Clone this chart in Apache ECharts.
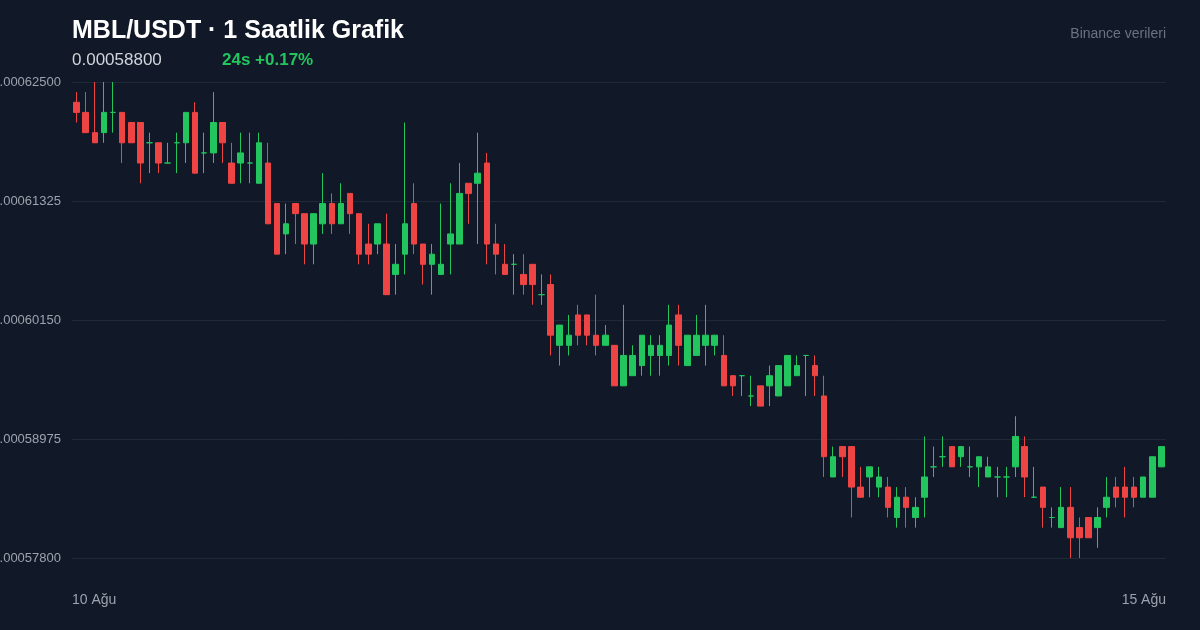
<!DOCTYPE html>
<html>
<head>
<meta charset="utf-8">
<script src="https://cdn.jsdelivr.net/npm/echarts@6/dist/echarts.min.js"></script>
<style>
  html, body { margin: 0; padding: 0; background: #111827; }
  #chart { width: 1200px; height: 630px; }
</style>
</head>
<body>
<div id="chart"></div>
<script>
// Hourly OHLC values (USDT)
const opens = [0.000623,0.000622,0.000620,0.000620,0.000622,0.000622,0.000621,0.000621,0.000619,0.000619,
  0.000617,0.000619,0.000619,0.000622,0.000618,0.000618,0.000621,0.000617,0.000617,0.000617,
  0.000615,0.000617,0.000613,0.000610,0.000613,0.000612,0.000609,0.000611,0.000613,0.000611,
  0.000614,0.000612,0.000609,0.000609,0.000609,0.000606,0.000608,0.000613,0.000609,0.000607,
  0.000606,0.000609,0.000609,0.000615,0.000615,0.000617,0.000609,0.000607,0.000607,0.000606,
  0.000607,0.000604,0.000605,0.000599,0.000599,0.000602,0.000602,0.000600,0.000599,0.000599,
  0.000595,0.000596,0.000597,0.000598,0.000598,0.000598,0.000602,0.000597,0.000598,0.000599,
  0.000599,0.000598,0.000596,0.000596,0.000594,0.000595,0.000595,0.000594,0.000595,0.000596,
  0.000598,0.000597,0.000594,0.000586,0.000589,0.000589,0.000585,0.000586,0.000585,0.000585,
  0.000582,0.000584,0.000582,0.000584,0.000587,0.000588,0.000589,0.000588,0.000587,0.000587,
  0.000586,0.000586,0.000586,0.000587,0.000589,0.000584,0.000585,0.000582,0.000581,0.000583,
  0.000581,0.000582,0.000581,0.000583,0.000585,0.000585,0.000585,0.000584,0.000584,0.000587];
const closes = [0.000622,0.000620,0.000619,0.000622,0.000622,0.000619,0.000619,0.000617,0.000619,0.000617,
  0.000617,0.000619,0.000622,0.000616,0.000618,0.000621,0.000619,0.000615,0.000618,0.000617,
  0.000619,0.000611,0.000608,0.000611,0.000612,0.000609,0.000612,0.000613,0.000611,0.000613,
  0.000612,0.000608,0.000608,0.000611,0.000604,0.000607,0.000611,0.000609,0.000607,0.000608,
  0.000607,0.000610,0.000614,0.000614,0.000616,0.000609,0.000608,0.000606,0.000607,0.000605,
  0.000605,0.000604,0.000600,0.000601,0.000600,0.000600,0.000600,0.000599,0.000600,0.000595,
  0.000598,0.000598,0.000600,0.000599,0.000599,0.000601,0.000599,0.000600,0.000600,0.000600,
  0.000600,0.000595,0.000595,0.000596,0.000594,0.000593,0.000596,0.000597,0.000598,0.000597,
  0.000598,0.000596,0.000588,0.000588,0.000588,0.000585,0.000584,0.000587,0.000586,0.000583,
  0.000584,0.000583,0.000583,0.000586,0.000587,0.000588,0.000587,0.000589,0.000587,0.000588,
  0.000587,0.000586,0.000586,0.000590,0.000586,0.000584,0.000583,0.000582,0.000583,0.000580,
  0.000580,0.000580,0.000582,0.000584,0.000584,0.000584,0.000584,0.000586,0.000588,0.000589];
const highs = [0.000624,0.000624,0.000625,0.000625,0.000625,0.000622,0.000621,0.000621,0.000620,0.000619,
  0.000619,0.000620,0.000622,0.000623,0.000620,0.000624,0.000621,0.000619,0.000620,0.000620,
  0.000620,0.000619,0.000613,0.000613,0.000613,0.000612,0.000612,0.000616,0.000614,0.000615,
  0.000614,0.000612,0.000611,0.000611,0.000612,0.000609,0.000621,0.000615,0.000609,0.000609,
  0.000613,0.000615,0.000617,0.000615,0.000620,0.000618,0.000611,0.000609,0.000608,0.000608,
  0.000607,0.000606,0.000606,0.000601,0.000602,0.000603,0.000602,0.000604,0.000601,0.000599,
  0.000603,0.000599,0.000600,0.000600,0.000600,0.000603,0.000603,0.000600,0.000602,0.000603,
  0.000600,0.000600,0.000596,0.000596,0.000596,0.000595,0.000597,0.000597,0.000598,0.000598,
  0.000598,0.000598,0.000596,0.000589,0.000589,0.000589,0.000587,0.000587,0.000587,0.000586,
  0.000585,0.000585,0.000584,0.000590,0.000589,0.000590,0.000589,0.000589,0.000589,0.000588,
  0.000588,0.000587,0.000587,0.000592,0.000590,0.000587,0.000585,0.000583,0.000585,0.000585,
  0.000582,0.000582,0.000583,0.000586,0.000586,0.000587,0.000586,0.000586,0.000588,0.000589];
const lows = [0.000621,0.000620,0.000619,0.000619,0.000620,0.000617,0.000619,0.000615,0.000616,0.000616,
  0.000617,0.000616,0.000617,0.000616,0.000616,0.000617,0.000617,0.000615,0.000615,0.000615,
  0.000615,0.000611,0.000608,0.000608,0.000609,0.000607,0.000607,0.000610,0.000610,0.000611,
  0.000610,0.000607,0.000607,0.000608,0.000604,0.000604,0.000606,0.000608,0.000605,0.000604,
  0.000606,0.000606,0.000609,0.000611,0.000609,0.000607,0.000606,0.000606,0.000604,0.000604,
  0.000603,0.000603,0.000598,0.000597,0.000598,0.000599,0.000599,0.000598,0.000599,0.000595,
  0.000595,0.000596,0.000596,0.000596,0.000596,0.000597,0.000597,0.000597,0.000598,0.000597,
  0.000598,0.000595,0.000594,0.000594,0.000593,0.000593,0.000593,0.000594,0.000595,0.000596,
  0.000594,0.000594,0.000586,0.000586,0.000586,0.000582,0.000584,0.000584,0.000584,0.000582,
  0.000581,0.000581,0.000581,0.000582,0.000586,0.000587,0.000587,0.000587,0.000586,0.000585,
  0.000586,0.000584,0.000584,0.000586,0.000584,0.000584,0.000581,0.000581,0.000581,0.000578,
  0.000578,0.000580,0.000579,0.000582,0.000583,0.000582,0.000583,0.000584,0.000584,0.000587];

const dateTickLabels = ['10 Ağu', '15 Ağu'];
const yMin = 0.000578, yMax = 0.000625, yStep = 0.00001175;

// hourly category names
const categories = [];
const start = Date.UTC(2025, 7, 10, 1, 0);
for (let i = 0; i < opens.length; i++) {
  const d = new Date(start + i * 3600000);
  categories.push(d.getUTCDate() + ' Ağu ' + String(d.getUTCHours()).padStart(2, '0') + ':00');
}
const ohlc = opens.map((o, i) => [o, closes[i], lows[i], highs[i]]);

const UP = '#22c55e', DOWN = '#ef4444';
const FONT = '"Liberation Sans", Arial, sans-serif';

const chart = echarts.init(document.getElementById('chart'));
chart.setOption({
  backgroundColor: '#111827',
  animation: false,
  textStyle: { fontFamily: FONT },
  title: [
    { text: 'MBL/USDT · 1 Saatlik Grafik', left: 72, top: 19, padding: 0,
      textStyle: { color: '#ffffff', fontSize: 25, fontWeight: 'bold', fontFamily: FONT } },
    { text: '0.00058800', left: 72, top: 52, padding: 0,
      textStyle: { color: '#d1d5db', fontSize: 17, fontWeight: 'normal', fontFamily: FONT } },
    { text: '24s +0.17%', left: 222, top: 52, padding: 0,
      textStyle: { color: UP, fontSize: 17, fontWeight: 'bold', fontFamily: FONT } },
    { text: 'Binance verileri', right: 34, top: 27, padding: 0,
      textStyle: { color: '#6b7280', fontSize: 14, fontWeight: 'normal', fontFamily: FONT } }
  ],
  grid: { left: 72, right: 34, top: 82, bottom: 72, outerBoundsMode: 'none', containLabel: false },
  xAxis: [
    { type: 'category', data: categories, boundaryGap: true,
      axisLine: { show: false }, axisTick: { show: false }, axisLabel: { show: false },
      splitLine: { show: false } },
    { type: 'value', min: 0, max: 1, interval: 1, position: 'bottom',
      axisLine: { show: false }, axisTick: { show: false }, splitLine: { show: false },
      axisLabel: { color: '#9ca3af', fontSize: 14, fontFamily: FONT, margin: 35,
        alignMinLabel: 'left', alignMaxLabel: 'right',
        formatter: v => dateTickLabels[v] } }
  ],
  yAxis: {
    type: 'value', min: yMin, max: yMax, interval: yStep, scale: true,
    axisLine: { show: false }, axisTick: { show: false },
    splitLine: { lineStyle: { color: '#1f2937', width: 1 } },
    axisLabel: { color: '#9ca3af', fontSize: 13, fontFamily: FONT, margin: 11,
      formatter: v => v.toFixed(8) }
  },
  series: [{
    type: 'candlestick',
    xAxisIndex: 0,
    data: ohlc,
    barWidth: 6,
    itemStyle: {
      color: UP, color0: DOWN, borderColor: UP, borderColor0: DOWN,
      borderColorDoji: UP, borderWidth: 1
    }
  }]
});
</script>
</body>
</html>
